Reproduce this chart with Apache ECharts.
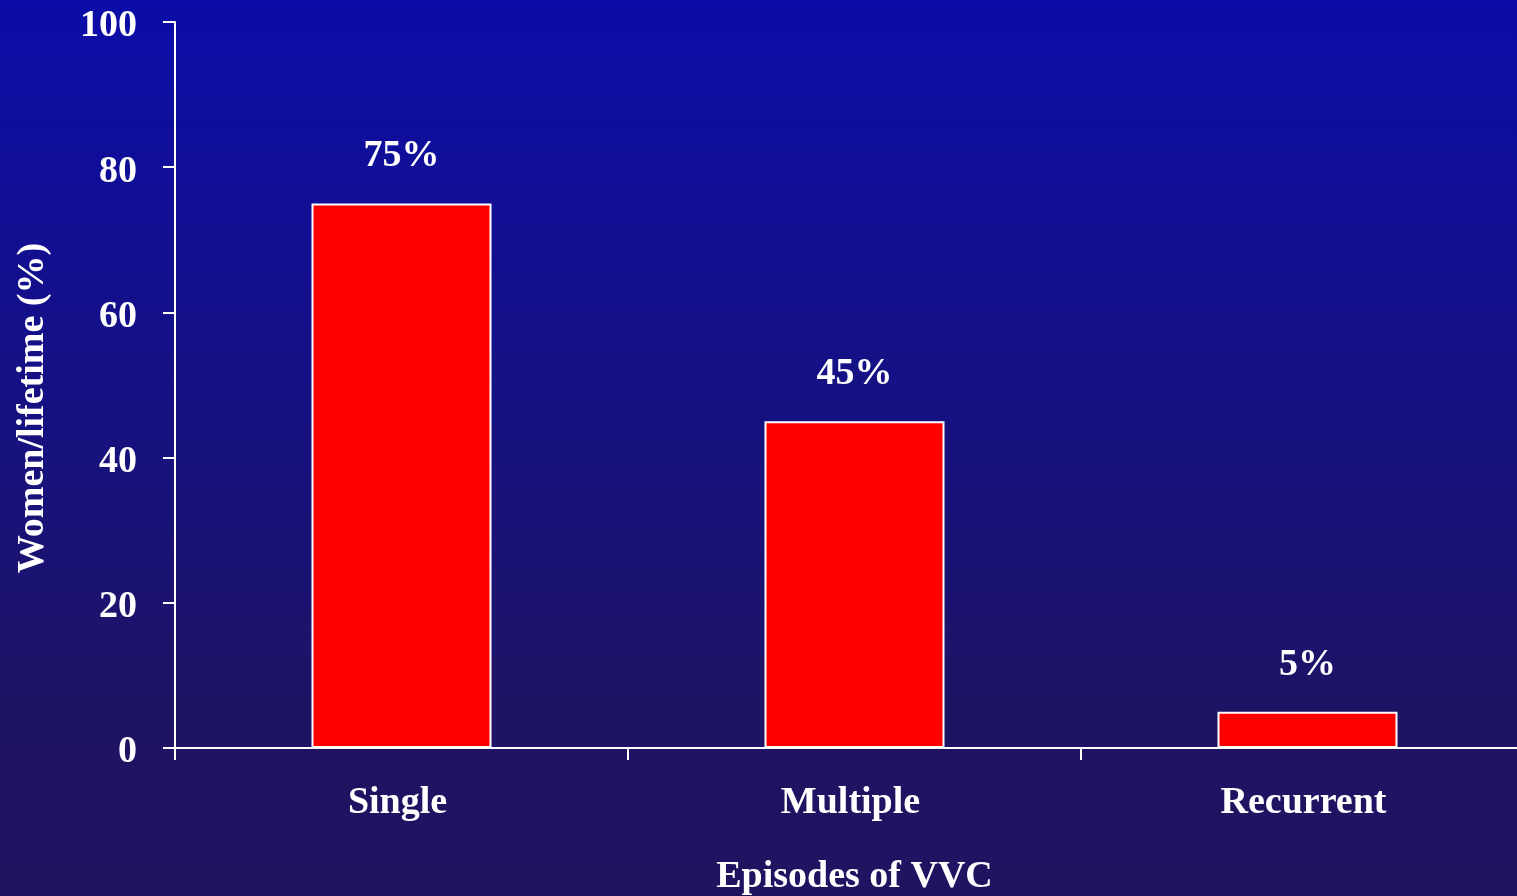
<!DOCTYPE html>
<html>
<head>
<meta charset="utf-8">
<script src="https://cdn.jsdelivr.net/npm/echarts@6/dist/echarts.min.js"></script>
<style>
html,body{margin:0;padding:0;}
#main{width:1517px;height:896px;}
</style>
</head>
<body>
<div id="main"></div>
<script>
var categories = ['Single', 'Multiple', 'Recurrent'];
var values = [75, 45, 5];
var yTicks = [0, 20, 40, 60, 80, 100];

var font = '"Liberation Serif", "Times New Roman", serif';
var chart = echarts.init(document.getElementById('main'));

chart.setOption({
    backgroundColor: new echarts.graphic.LinearGradient(0, 0, 0, 1, [
        {offset: 0, color: '#0c0da8'},
        {offset: 0.8, color: '#1e1464'},
        {offset: 1, color: '#1f1460'}
    ]),
    animation: false,
    grid: {left: 175, top: 22, width: 1359, bottom: 148, containLabel: false, outerBoundsMode: 'none'},
    xAxis: {
        type: 'category',
        data: categories,
        name: 'Episodes of VVC',
        nameLocation: 'middle',
        nameGap: 110,
        nameTextStyle: {color: '#fff', fontFamily: font, fontWeight: 'bold', fontSize: 38},
        axisLine: {lineStyle: {color: '#fff', width: 2}},
        axisTick: {show: true, length: 12, lineStyle: {color: '#fff', width: 2}},
        axisLabel: {color: '#fff', fontFamily: font, fontWeight: 'bold', fontSize: 38, margin: 36, padding: [0, 8, 0, 0]}
    },
    yAxis: {
        type: 'value',
        min: yTicks[0],
        max: yTicks[yTicks.length - 1],
        interval: 20,
        name: 'Women/lifetime (%)',
        nameLocation: 'middle',
        nameGap: 123,
        nameRotate: 90,
        nameTextStyle: {color: '#fff', fontFamily: font, fontWeight: 'bold', fontSize: 38, padding: [0, 46, 0, 0]},
        axisLine: {show: true, lineStyle: {color: '#fff', width: 2}},
        axisTick: {show: true, length: 12, lineStyle: {color: '#fff', width: 2}},
        splitLine: {show: false},
        axisLabel: {
            margin: 38,
            formatter: '{t|{value}}',
            rich: {t: {color: '#fff', fontFamily: font, fontWeight: 'bold', fontSize: 38, padding: [9, 0, 0, 0]}}
        }
    },
    series: [{
        type: 'bar',
        data: values,
        barWidth: 180,
        itemStyle: {color: '#ff0000', borderColor: '#fff', borderWidth: 2},
        label: {
            show: true,
            position: 'top',
            distance: 28,
            formatter: '{c}%',
            color: '#fff',
            fontFamily: font,
            fontWeight: 'bold',
            fontSize: 38
        }
    }]
});
</script>
</body>
</html>
